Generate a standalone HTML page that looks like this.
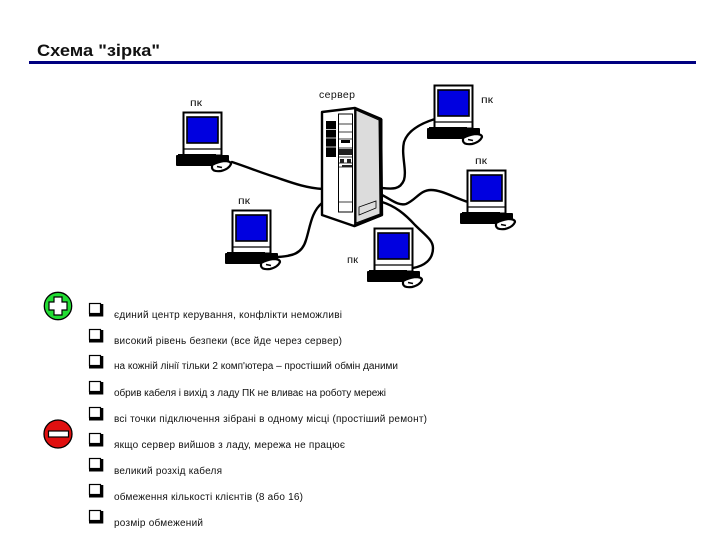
<!DOCTYPE html>
<html>
<head>
<meta charset="utf-8">
<style>
html,body{margin:0;padding:0;background:#fff;}
svg{display:block;}
text{font-family:"Liberation Sans",sans-serif;fill:#111;}
</style>
</head>
<body>
<svg width="720" height="540" viewBox="0 0 720 540" xmlns="http://www.w3.org/2000/svg">
<defs>
<g id="pc">
  <rect x="0.5" y="0.5" width="38" height="43" fill="#fff" stroke="#000" stroke-width="2"/>
  <rect x="4" y="5" width="31" height="26" fill="#0000e0" stroke="#000" stroke-width="1.6"/>
  <line x1="1" y1="37" x2="38" y2="37" stroke="#000" stroke-width="1.2"/>
  <rect x="-7" y="43" width="53" height="11" rx="1" fill="#000"/>
  <rect x="-5" y="42" width="38" height="3" fill="#000"/>
  <path d="M29 53Q34 50 41 49Q48 49 48 52Q46 57 38 59Q30 60 29 56Z" fill="#fff" stroke="#000" stroke-width="2.2"/>
  <path d="M34 54.500l5 1" stroke="#000" stroke-width="1.6"/>
</g>
<g id="cb">
  <rect x="1.5" y="1.5" width="11" height="10" fill="#fff" stroke="#000" stroke-width="1.2"/>
  <path d="M1 13.200H14V2" fill="none" stroke="#000" stroke-width="2.600"/>
</g>
</defs>

<text x="37" y="56" font-size="16.500" font-weight="bold" textLength="123" lengthAdjust="spacingAndGlyphs">Схема "зірка"</text>
<rect x="29" y="61" width="667" height="3" fill="#000080"/>

<g fill="none" stroke="#000" stroke-width="2.400" stroke-linecap="round">
  <path d="M232 162C250 168 262 173 275 177C290 182 305 188 323 189"/>
  <path d="M278 257C292 256 302 254 306 240C310 228 311 212 322 203"/>
  <path d="M435 119C422 123 408 130 404 142C401 155 407 170 404 180C400 190 392 189 382 188"/>
  <path d="M382 195C392 200 398 206 406 204C416 200 420 190 431 190C442 190 455 198 468 202"/>
  <path d="M382 202C395 206 405 214 415 225C425 235 433 240 433 248C433 260 424 266 413 268"/>
</g>

<use href="#pc" x="183" y="112"/>
<use href="#pc" x="232" y="210"/>
<use href="#pc" x="434" y="85"/>
<use href="#pc" x="467" y="170"/>
<use href="#pc" x="374" y="228"/>

<!-- server -->
<polygon points="322,112 355,108 381,119 382,215 354,226 322,215" fill="#fff" stroke="#000" stroke-width="2.400" stroke-linejoin="round"/>
<polygon points="356,110 379,120 380,214 356,223" fill="#dcdcdc" stroke="#000" stroke-width="1"/>
<path d="M355 108V226" stroke="#000" stroke-width="1.800"/>
<path d="M381 119V215L354 226" fill="none" stroke="#000" stroke-width="3"/>
<path d="M359 215V207L376 201V208Z" fill="none" stroke="#000" stroke-width="0.800"/>
<rect x="326" y="121" width="10" height="36" fill="#000"/>
<path d="M326 129.500h10M326 138h10M326 147h10" stroke="#fff" stroke-width="0.700"/>
<rect x="338.500" y="114" width="14" height="98" fill="#fff" stroke="#000" stroke-width="1"/>
<path d="M339 124h13M339 132h13M339 139h13M339 148h13M339 157h13M339 163h13M339 167h13M339 202h13" stroke="#000" stroke-width="0.800"/>
<rect x="341" y="140" width="9" height="3" fill="#000"/>
<rect x="339" y="149" width="13" height="6" fill="#222"/>
<rect x="340" y="159" width="4" height="4" fill="#222"/>
<rect x="347" y="159" width="4" height="4" fill="#222"/>
<rect x="342" y="165" width="10" height="2" fill="#222"/>

<text x="190" y="106" font-size="10.500" textLength="12" lengthAdjust="spacingAndGlyphs">пк</text>
<text x="319" y="98" font-size="10.500" textLength="36" lengthAdjust="spacing">сервер</text>
<text x="238" y="204" font-size="10.500" textLength="12" lengthAdjust="spacingAndGlyphs">пк</text>
<text x="347" y="263" font-size="10.500" textLength="11" lengthAdjust="spacingAndGlyphs">пк</text>
<text x="481" y="103" font-size="10.500" textLength="12" lengthAdjust="spacingAndGlyphs">пк</text>
<text x="475" y="164" font-size="10.500" textLength="12" lengthAdjust="spacingAndGlyphs">пк</text>

<!-- plus -->
<circle cx="58" cy="306" r="13.700" fill="#22dd33" stroke="#000" stroke-width="1.300"/>
<path d="M54 297H62V302H67V310H62V315H54V310H49V302H54Z" fill="#fff" stroke="#000" stroke-width="1.200"/>
<!-- minus -->
<circle cx="58" cy="434" r="14" fill="#e01010" stroke="#000" stroke-width="1.300"/>
<rect x="48.500" y="431" width="20" height="6" fill="#fff" stroke="#000" stroke-width="1.200"/>

<use href="#cb" x="88" y="302"/>
<use href="#cb" x="88" y="328"/>
<use href="#cb" x="88" y="354"/>
<use href="#cb" x="88" y="380"/>
<use href="#cb" x="88" y="406"/>
<use href="#cb" x="88" y="432"/>
<use href="#cb" x="88" y="457"/>
<use href="#cb" x="88" y="483"/>
<use href="#cb" x="88" y="509"/>

<g font-size="10">
<text x="114" y="318" textLength="228" lengthAdjust="spacing">єдиний центр керування, конфлікти неможливі</text>
<text x="114" y="344" textLength="228" lengthAdjust="spacing">високий рівень безпеки (все йде через сервер)</text>
<text x="114" y="369" textLength="284" lengthAdjust="spacing">на кожній лінії тільки 2 комп'ютера – простіший обмін даними</text>
<text x="114" y="396" textLength="272" lengthAdjust="spacing">обрив кабеля і вихід з ладу ПК не вливає на роботу мережі</text>
<text x="114" y="422" textLength="313" lengthAdjust="spacing">всі точки підключення зібрані в одному місці (простіший ремонт)</text>
<text x="114" y="448" textLength="231" lengthAdjust="spacing">якщо сервер вийшов з ладу, мережа не працює</text>
<text x="114" y="474" textLength="108" lengthAdjust="spacing">великий розхід кабеля</text>
<text x="114" y="500" textLength="189" lengthAdjust="spacing">обмеження кількості клієнтів (8 або 16)</text>
<text x="114" y="526" textLength="89" lengthAdjust="spacing">розмір обмежений</text>
</g>
</svg>
</body>
</html>
